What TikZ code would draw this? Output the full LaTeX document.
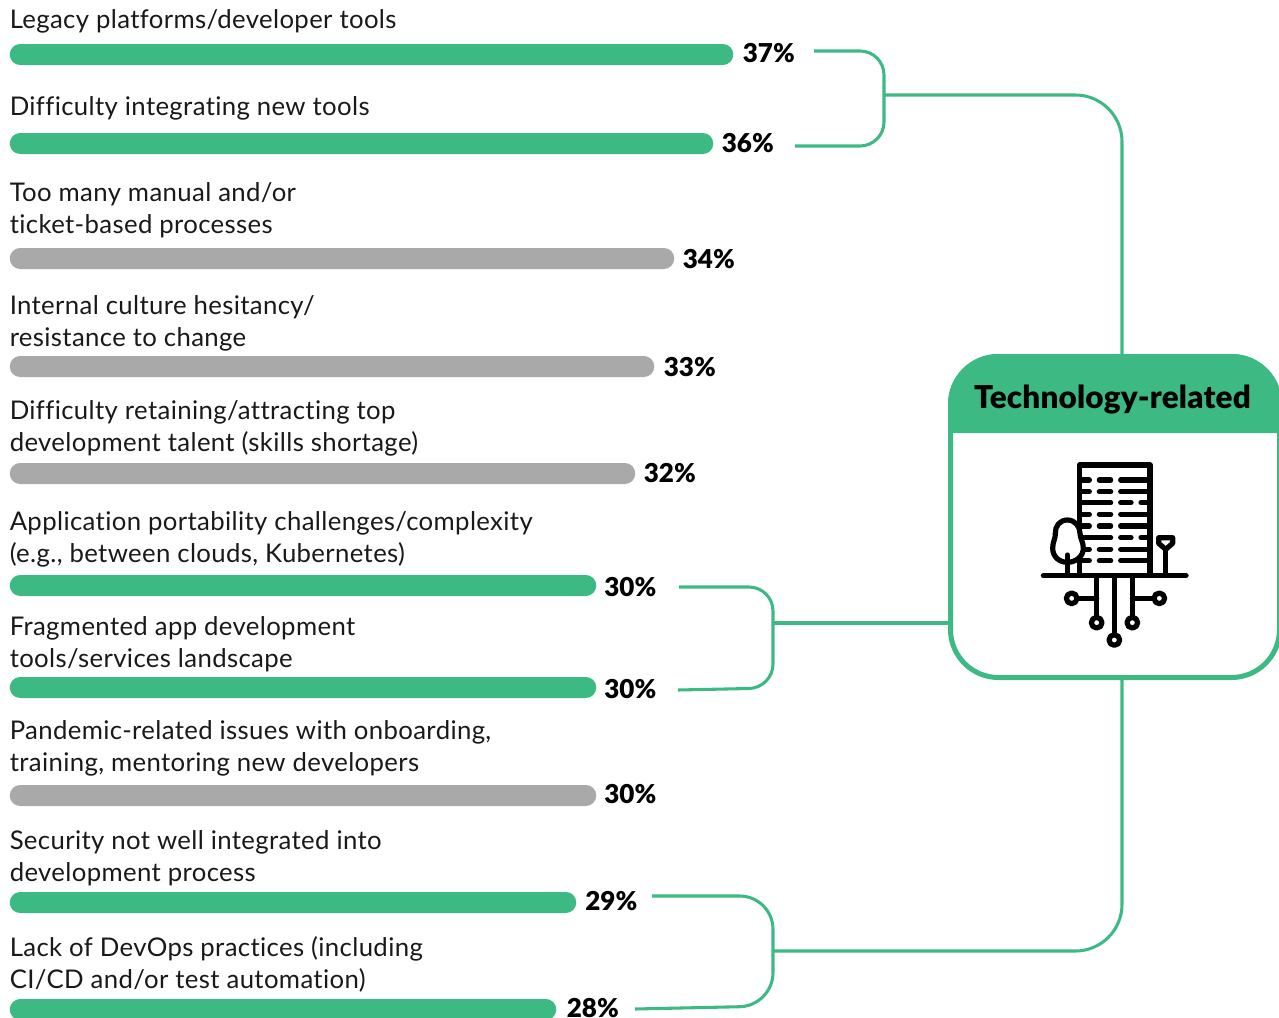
\documentclass[tikz,border=0pt]{standalone}
\usepackage{fontspec}
\setmainfont[LetterSpace=1.4,Ligatures=NoCommon]{Lato}
\newfontfamily\heavyfont[LetterSpace=0.6,Ligatures=NoCommon]{Lato Black}
\definecolor{grn}{HTML}{3DB984}
\definecolor{gry}{HTML}{A9A9A9}
\tikzset{
  lbl/.style={anchor=base west,inner sep=0pt,align=left,font=\fontsize{19.3}{24}\selectfont,text=black!90},
  pct/.style={anchor=base west,inner sep=0pt,font=\fontsize{19.5}{24}\heavyfont,text=black},
  barbox/.style={anchor=west,inner sep=0pt,minimum height=15.75pt,rounded corners=7.8pt},
  link/.style={draw=grn,line width=2.3pt},
  ico/.style={draw=black,line width=3.9pt,line cap=round,line join=round},
}
\newcommand{\hbarnode}[7]{% name, xend, ycentre, colour, pct, pct x, pct baseline
  \pgfmathsetlengthmacro{\barw}{(#2-9.5)*0.75pt}
  \node[barbox,fill=#4,minimum width=\barw] (b#1) at (9.5,#3) {};
  \node[pct] (p#1) at (#6,#7) {#5};
}
\begin{document}
\begin{tikzpicture}[x=0.75pt,y=-0.75pt]
\useasboundingbox (0,0) rectangle (1279,1018);
\clip (0,0) rectangle (1279,1018);
% connectors
\coordinate (s1) at (814,51); \coordinate (s2) at (795,146);
\coordinate (c1a) at (884,51); \coordinate (c1b) at (884,146);
\coordinate (h1) at (884,95);
\coordinate (t1) at (1122,356);
\draw[link,rounded corners=18pt] (s1) -- (c1a) -- (c1b) -- (s2);
\draw[link,rounded corners=35pt] (h1) -- (1122,95) -- (t1);
\coordinate (s3) at (679,587); \coordinate (s4) at (678,690);
\coordinate (h2) at (773,623); \coordinate (t2) at (950,623);
\draw[link,rounded corners=18pt] (s3) -- (773,587) -- (773,688) -- (s4);
\draw[link] (h2) -- (t2);
\coordinate (s5) at (652,896); \coordinate (s6) at (635,1009);
\coordinate (h3) at (773,951); \coordinate (t3) at (1122,678);
\draw[link,rounded corners=25pt] (s5) -- (773,896) -- (773,1006) -- (s6);
\draw[link,rounded corners=35pt] (h3) -- (1122,951) -- (t3);
% bars
\hbarnode{1}{733}{54.5}{grn}{37\%}{742.5}{62}
\hbarnode{2}{713}{143.5}{grn}{36\%}{721.5}{152}
\hbarnode{3}{674}{258.5}{gry}{34\%}{682.5}{268}
\hbarnode{4}{654}{366.5}{gry}{33\%}{663.5}{376}
\hbarnode{5}{635}{473.5}{gry}{32\%}{643.5}{482}
\hbarnode{6}{596}{585.5}{grn}{30\%}{604}{596}
\hbarnode{7}{596}{687.5}{grn}{30\%}{604}{698}
\hbarnode{8}{596}{795.5}{gry}{30\%}{604}{803}
\hbarnode{9}{576}{902.5}{grn}{29\%}{585}{910}
\hbarnode{10}{556}{1009.5}{grn}{28\%}{566.5}{1017}
% labels
\node[lbl] (l1) at (9.5,28.5) {Legacy platforms/developer tools};
\node[lbl] (l2) at (9.5,115.5) {Difficulty integrating new tools};
\node[lbl] (l3) at (9.5,233.5) {Too many manual and/or\\ticket-based processes};
\node[lbl] (l4) at (9.5,346.5) {Internal culture hesitancy/\\resistance to change};
\node[lbl] (l5) at (9.5,451.5) {Difficulty retaining/attracting top\\development talent (skills shortage)};
\node[lbl] (l6) at (9.5,562.5) {Application portability challenges/complexity\\(e.g., between clouds, Kubernetes)};
\node[lbl] (l7) at (9.5,667.5) {Fragmented app development\\tools/services landscape};
\node[lbl] (l8) at (9.5,771.5) {Pandemic-related issues with onboarding,\\training, mentoring new developers};
\node[lbl] (l9) at (9.5,881.5) {Security not well integrated into\\development process};
\node[lbl] (l10) at (9.5,988.5) {Lack of DevOps practices (including\\CI/CD and/or test automation)};
% panel
\draw[draw=grn,fill=white,line width=3.75pt,rounded corners=36pt] (950.5,356.5) rectangle (1279.5,677.5);
\fill[grn] (948,433) -- (948,404) arc[start angle=180,end angle=90,radius=37.5pt] -- (1232,354) arc[start angle=90,end angle=0,radius=37.5pt] -- (1282,433) -- cycle;
\node[inner sep=0pt,anchor=base,font=\fontsize{23.6}{26}\heavyfont,text=black] (tech) at (1112.5,408) {Technology-related};
% icon
\begin{scope}[shift={(1030,450)},x=0.25pt,y=-0.25pt]
\draw[ico] (148,376) -- (148,45) -- (360,45) -- (360,376);
\foreach \y in {90,125,193,228,298,332}{
  \draw[ico] (155,\y) -- (178,\y) (208,\y) -- (242,\y) (272,\y) -- (355,\y);}
\foreach \y in {158,263}{
  \draw[ico] (155,\y) -- (242,\y) (272,\y) -- (303,\y) (333,\y) -- (355,\y);}
\draw[ico,fill=white] (112,210) .. controls (88,210) and (75,230) .. (76,250)
  .. controls (77,265) and (68,275) .. (68,295)
  .. controls (68,320) and (88,337) .. (112,337)
  .. controls (136,337) and (160,320) .. (160,295)
  .. controls (160,275) and (150,265) .. (150,250)
  .. controls (150,230) and (136,210) .. (112,210) -- cycle;
\draw[ico] (112,315) -- (112,376);
\draw[ico] (148,337) -- (148,376);
\draw[ico] (40,377) -- (468,377);
\draw[ico] (386,263) -- (428,263) -- (428,280) -- (407,298) -- (386,280) -- cycle;
\draw[ico] (407,298) -- (407,376);
\draw[ico] (200,377) -- (200,500);
\draw[ico] (253,377) -- (253,552);
\draw[ico] (307,377) -- (307,500);
\draw[ico] (200,445) -- (145,445);
\draw[ico] (307,445) -- (368,445);
\foreach \a/\b in {125/445,388/445,200/518,307/518,253/570}{
  \draw[ico] (\a,\b) circle[radius=4pt];}
\end{scope}
\end{tikzpicture}
\end{document}
